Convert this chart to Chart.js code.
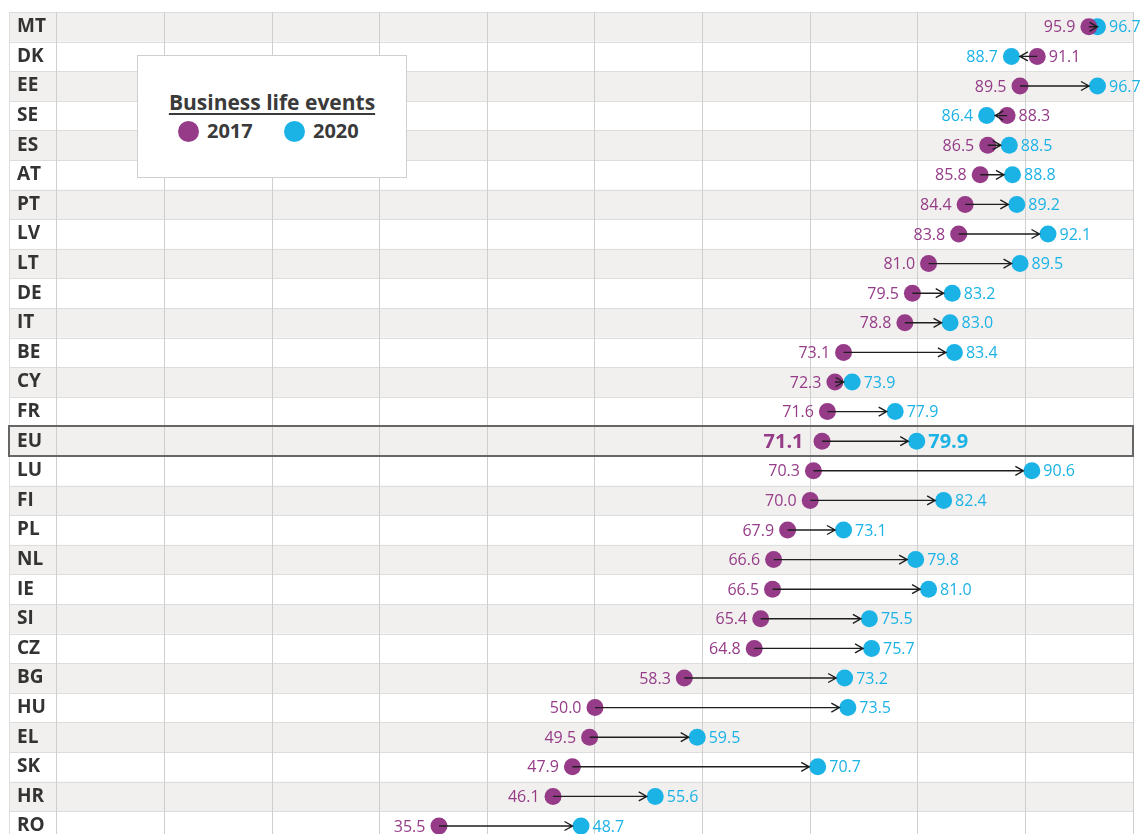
<!DOCTYPE html>
<html>
<head>
<meta charset="utf-8">
<script src="https://cdn.jsdelivr.net/npm/chart.js@4"></script>
<style>
  body { margin: 0; background: #fff; }
  #wrap { position: relative; width: 1143px; height: 834px; overflow: hidden; }
  #legend {
    position: absolute; left: 137px; top: 55px; width: 268px; height: 121px;
    background: #fff; border: 1px solid #cfcfcf;
    font-family: "Open Sans", sans-serif; color: #3a3a3a; font-weight: bold;
  }
  #legend .title {
    position: absolute; left: 0; top: 33px; width: 100%; text-align: center;
    font-size: 21px; line-height: 26px; text-decoration: underline;
    text-decoration-thickness: 2px; text-underline-offset: 3px;
  }
  #legend .dot { position: absolute; top: 65px; width: 21px; height: 21px; border-radius: 50%; }
  #legend .lab { position: absolute; top: 63px; font-size: 20px; line-height: 24px; }
</style>
</head>
<body>
<div id="wrap">
  <canvas id="chart" width="1143" height="834"></canvas>
  <div id="legend">
    <div class="title">Business life events</div>
    <span class="dot" style="left:40px; background:#953b88"></span>
    <span class="lab" style="left:69px">2017</span>
    <span class="dot" style="left:146px; background:#1bb2e6"></span>
    <span class="lab" style="left:175px">2020</span>
  </div>
</div>
<script>
"use strict";

const countries = ["MT", "DK", "EE", "SE", "ES", "AT", "PT", "LV", "LT", "DE", "IT", "BE", "CY", "FR",
  "EU", "LU", "FI", "PL", "NL", "IE", "SI", "CZ", "BG", "HU", "EL", "SK", "HR", "RO"];
const values2017 = [95.9, 91.1, 89.5, 88.3, 86.5, 85.8, 84.4, 83.8, 81.0, 79.5, 78.8, 73.1, 72.3, 71.6,
  71.1, 70.3, 70.0, 67.9, 66.6, 66.5, 65.4, 64.8, 58.3, 50.0, 49.5, 47.9, 46.1, 35.5];
const values2020 = [96.7, 88.7, 96.7, 86.4, 88.5, 88.8, 89.2, 92.1, 89.5, 83.2, 83.0, 83.4, 73.9, 77.9,
  79.9, 90.6, 82.4, 73.1, 79.8, 81.0, 75.5, 75.7, 73.2, 73.5, 59.5, 70.7, 55.6, 48.7];
const xTicks = [0, 10, 20, 30, 40, 50, 60, 70, 80, 90, 100];
const highlight = "EU";

const purple = "#953b88";
const cyan = "#1bb2e6";
const R = 8.5;

// stripes and row lines behind everything
const rowsPlugin = {
  id: "rows",
  beforeDraw(chart) {
    const { ctx, chartArea, scales } = chart;
    const y = scales.y;
    const w = chartArea.right - chartArea.left;
    ctx.save();
    countries.forEach((c, i) => {
      if (i % 2 !== 0) return;
      const top = y.getPixelForValue(i - 0.5);
      const bottom = y.getPixelForValue(i + 0.5);
      ctx.fillStyle = "#f1f0ee";
      ctx.fillRect(chartArea.left, top, w, bottom - top);
    });
    ctx.strokeStyle = "#dddddd";
    ctx.lineWidth = 1;
    for (let i = 0; i <= countries.length; i++) {
      const yy = Math.round(y.getPixelForValue(i - 0.5)) + 0.5;
      ctx.beginPath();
      ctx.moveTo(chartArea.left, yy);
      ctx.lineTo(chartArea.right, yy);
      ctx.stroke();
    }
    ctx.beginPath();
    ctx.moveTo(chartArea.left + 0.5, chartArea.top);
    ctx.lineTo(chartArea.left + 0.5, chartArea.bottom);
    ctx.stroke();
    ctx.restore();
  },
  afterDatasetsDraw(chart) {
    const { ctx, chartArea, scales } = chart;
    const x = scales.x, y = scales.y;
    ctx.save();
    countries.forEach((c, i) => {
      const a = values2017[i], b = values2020[i];
      const x1 = x.getPixelForValue(a), x2 = x.getPixelForValue(b);
      const yy = y.getPixelForValue(i);
      const dir = b >= a ? 1 : -1;
      // arrow
      let tip = x2 - dir * R;
      if ((tip - x1) * dir < 2) tip = x2;
      ctx.strokeStyle = "#1e1e1e";
      ctx.lineWidth = 1.4;
      ctx.beginPath();
      ctx.moveTo(x1, yy);
      ctx.lineTo(tip, yy);
      ctx.moveTo(tip - dir * 8, yy - 4.5);
      ctx.lineTo(tip, yy);
      ctx.lineTo(tip - dir * 8, yy + 4.5);
      ctx.stroke();

      // value labels
      const isHi = c === highlight;
      ctx.font = isHi ? "bold 20px 'Open Sans'" : "16px 'Open Sans'";
      ctx.textBaseline = "middle";
      const leftGap = isHi ? 10 : 5, rightGap = 3;
      const lo = dir === 1 ? { v: a, px: x1, col: purple } : { v: b, px: x2, col: cyan };
      const hi = dir === 1 ? { v: b, px: x2, col: cyan } : { v: a, px: x1, col: purple };
      ctx.fillStyle = lo.col;
      ctx.textAlign = "right";
      ctx.fillText(lo.v.toFixed(1), lo.px - R - leftGap, yy + 1);
      ctx.fillStyle = hi.col;
      ctx.textAlign = "left";
      ctx.fillText(hi.v.toFixed(1), hi.px + R + rightGap, yy + 1);
    });
    // highlighted row frame
    const hiIdx = countries.indexOf(highlight);
    const t = Math.round(y.getPixelForValue(hiIdx - 0.5));
    const bt = Math.round(y.getPixelForValue(hiIdx + 0.5));
    ctx.strokeStyle = "#666";
    ctx.lineWidth = 2;
    ctx.strokeRect(chartArea.left, t, chartArea.right - chartArea.left, bt - t);
    ctx.restore();
  }
};

// axes take no room, so the plot area is set by layout padding only
const noRoom = (scale) => {
  if (scale.isHorizontal()) scale.height = 0; else scale.width = 0;
  scale.paddingTop = 0; scale.paddingBottom = 0;
  scale.paddingLeft = 0; scale.paddingRight = 0;
};

const data = {
  datasets: [
    {
      label: "2017",
      data: values2017.map((v, i) => ({ x: v, y: i })),
      backgroundColor: purple,
      pointRadius: R,
      pointBorderWidth: 0,
    },
    {
      label: "2020",
      data: values2020.map((v, i) => ({ x: v, y: i })),
      backgroundColor: cyan,
      pointRadius: R,
      pointBorderWidth: 0,
    },
  ],
};

const config = {
  type: "scatter",
  data: data,
  plugins: [rowsPlugin],
  options: {
    responsive: false,
    animation: false,
    layout: { autoPadding: false, padding: { left: 9, right: 10, top: 12, bottom: 0 } },
    plugins: { legend: { display: false }, tooltip: { enabled: false } },
    scales: {
      x: {
        type: "linear",
        min: -4.46,
        max: 100,
        afterBuildTicks: (scale) => { scale.ticks = xTicks.map((v) => ({ value: v })); },
        afterFit: noRoom,
        ticks: { display: false },
        grid: { color: "#cfcfcf", drawTicks: false },
        border: { display: false },
      },
      y: {
        type: "linear",
        reverse: true,
        min: -0.5,
        max: 27.27,
        afterBuildTicks: (scale) => { scale.ticks = countries.map((c, i) => ({ value: i })); },
        afterFit: noRoom,
        ticks: {
          mirror: true,
          padding: 8,
          color: "#333",
          font: { family: "'Open Sans'", size: 19, weight: "bold", lineHeight: 0.05 },
          callback: (value) => countries[value],
        },
        grid: { display: false, drawTicks: false },
        border: { display: false },
      },
    },
  },
};

const myChart = new Chart(document.getElementById("chart"), config);
</script>
</body>
</html>
